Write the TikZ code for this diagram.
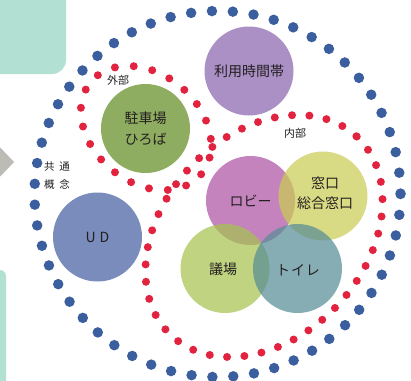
\documentclass[tikz,border=0pt]{standalone}
\usepackage{fontspec}
\setmainfont{Noto Sans CJK JP}
\usepackage{xcolor}

\definecolor{ringblue}{HTML}{3B5E9F}
\definecolor{ringred}{HTML}{E1233F}
\definecolor{labeltext}{HTML}{231F20}
\definecolor{tabgreen}{HTML}{B2E1D3}
\definecolor{arrowgray}{HTML}{BCBCB4}
\definecolor{cTime}{HTML}{AA90C5}
\definecolor{cPark}{HTML}{8FAD60}
\definecolor{cUD}{HTML}{7A8CBB}
% base colours of the see-through circles (drawn at 0.72)
\definecolor{cLobby}{RGB}{174,83,163}
\definecolor{cDesk}{RGB}{202,204,84}
\definecolor{cHall}{RGB}{166,194,79}
\definecolor{cToilet}{RGB}{88,141,151}

\begin{document}
\begin{tikzpicture}[x=1pt,y=-1pt,
    ball/.style={circle,minimum size=89pt,inner sep=0pt,text=labeltext,
      font=\fontsize{14}{20.5}\selectfont,align=center},
    seethru/.style={ball,fill opacity=0.72,text opacity=1},
    tag/.style={text=labeltext,font=\fontsize{11}{13}\selectfont,inner sep=0pt},
    bluering/.style={draw=ringblue,line width=10.5pt,line cap=round,dash pattern=on 0pt off 20.9pt},
    redring/.style={draw=ringred,line width=8pt,line cap=round}]
    \useasboundingbox (0,0) rectangle (411,380);
    \clip (0,0) rectangle (411,380);

    % side pieces of the page
    \fill[tabgreen,rounded corners=14pt] (-30,-30) rectangle (66,74);
    \fill[tabgreen,rounded corners=6pt] (-30,270) rectangle (6,410);
    \fill[arrowgray] (-5,142) -- (14,162) -- (-5,182) -- cycle;

    % dotted rings
    \draw[bluering] (217.5,194) circle[radius=183];
    \draw[redring,dash pattern=on 0pt off 18.95pt,rotate around={-40:(146,128)}]
        (146,128) circle[x radius=72,y radius=54];
    \draw[redring,dash pattern=on 0pt off 17.4pt,rotate around={47:(264,236)}]
        (264,236) circle[x radius=136,y radius=101];

    % circles
    \node[ball,fill=cTime] (jikan) at (249,71) {利用時間帯};
    \node[ball,fill=cPark] (parking) at (145.5,128.5) {駐車場\\ひろば};
    \node[ball,fill=cUD] (ud) at (97.5,237) {U\hspace{4pt}D};
    \node[seethru,fill=cLobby] (lobby) at (250.5,200.5) {};
    \node[seethru,fill=cDesk] (desk) at (323,196) {};
    \node[seethru,fill=cHall] (hall) at (225,268.5) {};
    \node[seethru,fill=cToilet] (toilet) at (297.5,268.5) {};

    % labels on top of the overlaps
    \node[ball] at (lobby) {ロビー};
    \node[ball] at (325,193) {窓口\\総合窓口};
    \node[ball] at (223,269) {議場};
    \node[ball] at (298,270) {ト\hspace{1pt}イ\hspace{1pt}レ};

    \node[tag] (gaibu) at (118,80) {外部};
    \node[tag] (naibu) at (295,133) {内部};
    \node[tag,font=\fontsize{10.5}{18}\selectfont,align=center] (kyotsu) at (57,176)
        {共\hspace{5pt}通\\概\hspace{5pt}念};
\end{tikzpicture}
\end{document}
